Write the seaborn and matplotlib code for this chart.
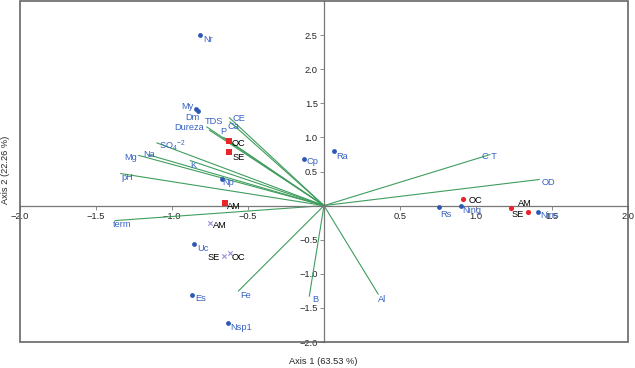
import matplotlib
matplotlib.use('Agg')
import matplotlib.pyplot as plt
import seaborn as sns
from matplotlib.patches import Rectangle

# blue points (sites)
site_names = ['Nr', 'My', 'Dm', 'Np', 'Cp', 'Ra', 'Rs', 'Ning', 'Nins', 'Uc', 'Es', 'Nsp1']
site_x = [-0.816, -0.844, -0.831, -0.673, -0.13, 0.068, 0.759, 0.90, 1.41, -0.853, -0.866, -0.632]
site_y = [2.50, 1.42, 1.39, 0.39, 0.69, 0.80, -0.025, 0.0, -0.10, -0.565, -1.31, -1.72]

# red squares
sq_names = ['OC', 'SE', 'AM']
sq_x = [-0.625, -0.627, -0.649]
sq_y = [0.95, 0.78, 0.04]

# red circles
ci_names = ['OC', 'SE', 'AM']
ci_x = [0.917, 1.228, 1.342]
ci_y = [0.10, -0.034, -0.09]

# crosses
cr_names = ['AM', 'SE', 'OC']
cr_x = [-0.75, -0.658, -0.62]
cr_y = [-0.255, -0.74, -0.69]

# environmental vectors
vec_names = ['CE', 'Ca', 'TDS', 'Dureza', 'P', 'SO$_4$$^{-2}$', 'Na', 'Mg', 'K', 'pH',
             'term', 'Fe', 'B', 'Al', 'C T', 'OD']
vec_x = [-0.623, -0.62, -0.754, -0.772, -0.66, -1.10, -1.155, -1.22, -0.88, -1.338,
         -1.375, -0.564, -0.097, 0.357, 1.092, 1.417]
vec_y = [1.29, 1.23, 1.106, 1.155, 1.00, 0.92, 0.745, 0.737, 0.66, 0.47,
         -0.22, -1.254, -1.33, -1.30, 0.748, 0.383]

x_ticks = [-2.0, -1.5, -1.0, -0.5, 0.5, 1.0, 1.5, 2.0]
y_ticks = [-2.0, -1.5, -1.0, -0.5, 0.5, 1.0, 1.5, 2.0, 2.5]

# label placement (ha, dx, dy in pixels)
site_lab = [('left', 3, -4), ('right', -2, 2), ('center', -5, -7), ('left', 1, -3),
            ('left', 2, -3), ('left', 2, -5), ('left', 1, -7), ('left', 1, -5),
            ('left', 2, -3), ('left', 3, -4), ('left', 3, -4), ('left', 2, -5)]
sq_lab = [('left', 3, -3), ('left', 4, -5), ('left', 2, -4)]
ci_lab = [('left', 5, -2), ('left', 1, -7), ('left', -10, 8)]
cr_lab = [('left', 3, -3), ('right', -4, -1), ('left', 2, -5)]
vec_lab = [('left', 3, -1), ('left', -2.5, -5), ('center', 4.6, 8.3), ('right', -2.7, -1),
           ('center', 0, 5.5), ('left', 2.6, -2.3), ('center', 1, 0.7), ('right', -1.6, -1.7),
           ('left', 0, -4.7), ('left', 1, -4), ('left', -2, -4), ('left', 2, -4),
           ('left', 3, -3), ('left', 0, -5), ('left', -8, -2.4), ('left', 2, -3)]

sns.set_style('white')
plt.rcParams['font.family'] = ['Liberation Sans', 'DejaVu Sans']
plt.rcParams['mathtext.default'] = 'regular'

BLUE_TXT = '#3762c2'
BLUE_PT = '#2c58b4'
GREEN = '#3f9d5e'
RED = '#e8262a'
CROSS = '#9b8fd4'
FS = 6.7

fig = plt.figure(figsize=(6.35, 3.68), dpi=100)
ax = fig.add_axes([20 / 635, 1 - 342 / 368, 608 / 635, 341 / 368])

# vectors
for x, y in zip(vec_x, vec_y):
    ax.plot([0, x], [0, y], color=GREEN, lw=0.8, zorder=2)

sns.scatterplot(x=site_x, y=site_y, ax=ax, color=BLUE_PT, s=12, linewidth=0, zorder=3)
sns.scatterplot(x=sq_x, y=sq_y, ax=ax, color=RED, marker='s', s=18, linewidth=0, zorder=3)
sns.scatterplot(x=ci_x, y=ci_y, ax=ax, color=RED, marker='o', s=14, linewidth=0, zorder=3)
sns.scatterplot(x=cr_x, y=cr_y, ax=ax, color=CROSS, marker='x', s=10, linewidth=0.8, zorder=3)


def put_labels(names, xs, ys, specs, color):
    for n, x, y, (ha, dx, dy) in zip(names, xs, ys, specs):
        ax.annotate(n, (x, y), xytext=(dx, dy), textcoords='offset pixels',
                    ha=ha, va='center', fontsize=FS, color=color, zorder=4)


put_labels(site_names, site_x, site_y, site_lab, BLUE_TXT)
put_labels(vec_names, vec_x, vec_y, vec_lab, BLUE_TXT)
put_labels(sq_names, sq_x, sq_y, sq_lab, 'black')
put_labels(ci_names, ci_x, ci_y, ci_lab, 'black')
put_labels(cr_names, cr_x, cr_y, cr_lab, 'black')

ax.set_xlim(-2.0, 2.0)
ax.set_ylim(-2.0, 3.0)

# axes through origin, frame around the plot
for side in ['left', 'bottom']:
    ax.spines[side].set_position(('data', 0))
    ax.spines[side].set_color('#777777')
    ax.spines[side].set_linewidth(0.9)
for side in ['top', 'right']:
    ax.spines[side].set_visible(False)
ax.add_patch(Rectangle((0, 0), 1, 1, transform=ax.transAxes, fill=False,
                       edgecolor='#666666', lw=1.2, clip_on=False, zorder=5))

ax.set_xticks(x_ticks)
ax.set_yticks(y_ticks)
ax.set_xticklabels([f'{t:.1f}'.replace('-', '\u2212') for t in x_ticks])
ax.set_yticklabels([f'{t:.1f}'.replace('-', '\u2212') for t in y_ticks])
ax.tick_params(axis='both', which='major', labelsize=FS, length=3, width=0.6,
               color='#777777', pad=1.5, direction='out')
ax.tick_params(left=True, bottom=True)

fig.text(323 / 635, 1 - 362 / 368, 'Axis 1 (63.53 %)', ha='center', va='center', fontsize=FS)
fig.text(6 / 635, 1 - 170 / 368, 'Axis 2 (22.26 %)', ha='center', va='center',
         rotation=90, fontsize=FS)

fig.savefig('out.png', dpi=100)
